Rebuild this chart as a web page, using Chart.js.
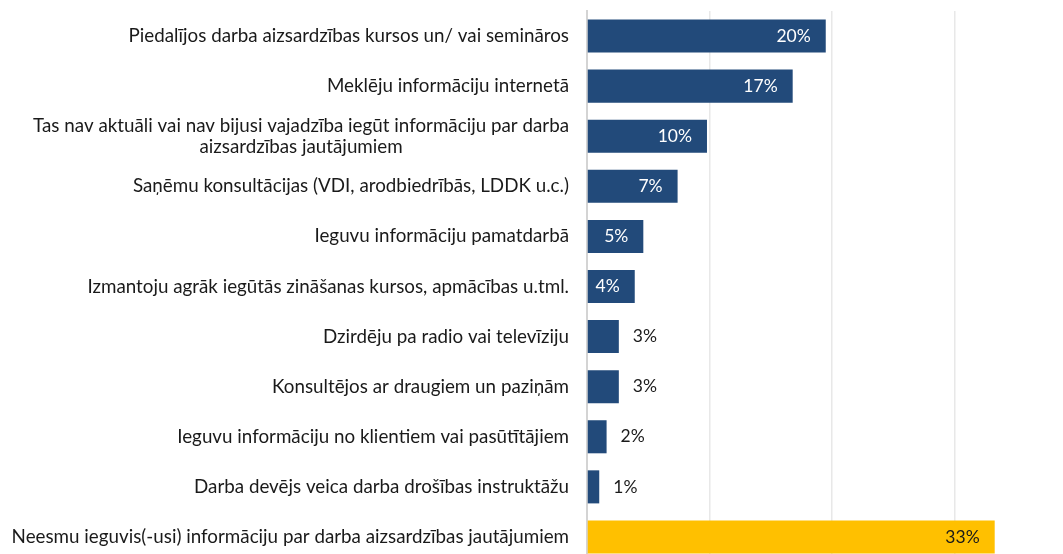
<!DOCTYPE html>
<html>
<head>
<meta charset="utf-8">
<script src="https://cdn.jsdelivr.net/npm/chart.js@4"></script>
<style>
  html, body { margin: 0; padding: 0; background: #ffffff; overflow: hidden; }
  #wrap { width: 1063px; height: 554px; overflow: hidden; }
</style>
</head>
<body>
<div id="wrap"><canvas id="c" width="1063" height="562"></canvas></div>
<script>
const categories = [
  "Piedalījos darba aizsardzības kursos un/ vai semināros",
  "Meklēju informāciju internetā",
  ["Tas nav aktuāli vai nav bijusi vajadzība iegūt informāciju par darba", "aizsardzības jautājumiem"],
  "Saņēmu konsultācijas (VDI, arodbiedrībās, LDDK u.c.)",
  "Ieguvu informāciju pamatdarbā",
  "Izmantoju agrāk iegūtās zināšanas kursos, apmācības u.tml.",
  "Dzirdēju pa radio vai televīziju",
  "Konsultējos ar draugiem un paziņām",
  "Ieguvu informāciju no klientiem vai pasūtītājiem",
  "Darba devējs veica darba drošības instruktāžu",
  "Neesmu ieguvis(-usi) informāciju par darba aizsardzības jautājumiem"
];
const values = [19.5, 16.8, 9.8, 7.4, 4.6, 3.9, 2.6, 2.6, 1.6, 1.0, 33.3];
const valueLabels = ["20%", "17%", "10%", "7%", "5%", "4%", "3%", "3%", "2%", "1%", "33%"];
const barColors = ["#224A7A", "#224A7A", "#224A7A", "#224A7A", "#224A7A", "#224A7A", "#224A7A", "#224A7A", "#224A7A", "#224A7A", "#FFC000"];
const xTicks = [0, 10, 20, 30];

const FONT = "Lato, 'Liberation Sans', sans-serif";
const FS = 18.8;
const VFS = 17.5;

const labelPlugin = {
  id: 'labels',
  afterDatasetsDraw(chart) {
    const ctx = chart.ctx;
    const meta = chart.getDatasetMeta(0);
    const yScale = chart.scales.y;
    ctx.save();
    ctx.font = FS + "px " + FONT;
    ctx.textBaseline = 'middle';
    const rightX = chart.chartArea.left - 18;
    categories.forEach((cat, i) => {
      const y = yScale.getPixelForTick(i);
      ctx.fillStyle = '#1a1a1a';
      if (Array.isArray(cat)) {
        const widest = Math.max(...cat.map(l => ctx.measureText(l).width));
        const cx = rightX - widest / 2;
        const lh = 21;
        ctx.textAlign = 'center';
        cat.forEach((l, j) => {
          ctx.fillText(l, cx, y + (j - (cat.length - 1) / 2) * lh);
        });
      } else {
        ctx.textAlign = 'right';
        ctx.fillText(cat, rightX, y);
      }
    });
    ctx.font = VFS + "px " + FONT;
    meta.data.forEach((bar, i) => {
      const v = values[i];
      if (v >= 3.5) {
        ctx.textAlign = 'right';
        ctx.fillStyle = i === values.length - 1 ? '#1a1a1a' : '#ffffff';
        ctx.fillText(valueLabels[i], bar.x - 15, bar.y);
      } else {
        ctx.textAlign = 'left';
        ctx.fillStyle = '#1a1a1a';
        ctx.fillText(valueLabels[i], bar.x + 14, bar.y);
      }
    });
    ctx.restore();
  }
};

new Chart(document.getElementById('c'), {
  type: 'bar',
  data: {
    labels: categories,
    datasets: [{
      data: values,
      backgroundColor: barColors,
      borderWidth: 0,
      barPercentage: 0.66,
      categoryPercentage: 1.0
    }]
  },
  options: {
    indexAxis: 'y',
    responsive: false,
    animation: false,
    devicePixelRatio: 1,
    layout: { padding: { top: 11, right: 23, left: 0, bottom: 0 } },
    plugins: { legend: { display: false }, tooltip: { enabled: false } },
    scales: {
      x: {
        min: 0,
        max: 37,
        afterBuildTicks(scale) { scale.ticks = xTicks.map(v => ({ value: v })); },
        ticks: { display: false },
        border: { display: false },
        grid: {
          drawTicks: false,
          lineWidth: 1.5,
          color: ctx => ctx.tick && ctx.tick.value === 0 ? 'rgba(0,0,0,0)' : '#e8e8e8'
        },
        afterFit(scale) { scale.height = 0; }
      },
      y: {
        ticks: { display: false },
        grid: { display: false, drawTicks: false },
        border: { display: true, color: '#d4d4d4', width: 2 },
        afterFit(scale) { scale.width = 587; }
      }
    }
  },
  plugins: [labelPlugin]
});
</script>
</body>
</html>
